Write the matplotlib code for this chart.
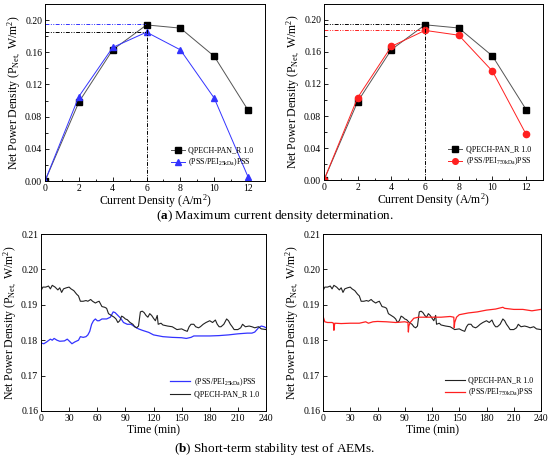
import matplotlib
matplotlib.use('Agg')
import matplotlib.pyplot as plt
import numpy as np
from matplotlib.ticker import MultipleLocator

plt.rcParams['font.family'] = ['Liberation Serif', 'DejaVu Serif']
plt.rcParams['mathtext.fontset'] = 'custom'
plt.rcParams['mathtext.rm'] = 'Liberation Serif'
plt.rcParams['mathtext.it'] = 'Liberation Serif'
plt.rcParams['mathtext.bf'] = 'Liberation Serif:bold'

# (a) current density sweep
current = [0, 2, 4, 6, 8, 10, 12]
p_qpech = [0, 0.098, 0.163, 0.194, 0.190, 0.155, 0.088]
p_25k = [0, 0.105, 0.166, 0.185, 0.163, 0.103, 0.005]
p_750k = [0, 0.103, 0.167, 0.187, 0.181, 0.136, 0.057]

# (b) stability test, time in min
t_qpech = [0, 2, 5, 8, 10, 12, 15, 18, 20, 22, 24, 27, 30, 32, 35, 38, 40, 42, 45, 48,
           50, 53, 55, 58, 60, 62, 65, 68, 70, 72, 75, 78, 80, 82, 84, 86, 88, 90, 92, 95,
           98, 100, 102, 104, 106, 108, 110, 112, 114, 116, 118, 120, 122, 124, 125, 128, 130, 135, 140, 145,
           150, 153, 156, 158, 160, 163, 165, 168, 170, 173, 176, 180, 183, 186, 188, 190, 192, 195, 198, 200,
           202, 204, 206, 210, 213, 215, 218, 222, 225, 228, 232, 235, 240]
p_qpech_t = [0.1940, 0.1950, 0.1950, 0.1953, 0.1945, 0.1955, 0.1950, 0.1942, 0.1948, 0.1935, 0.1945, 0.1948, 0.1950, 0.1945, 0.1940, 0.1930, 0.1925, 0.1910, 0.1910, 0.1912,
             0.1910, 0.1915, 0.1910, 0.1905, 0.1908, 0.1910, 0.1895, 0.1893, 0.1890, 0.1875, 0.1870, 0.1865, 0.1860, 0.1850, 0.1855, 0.1868, 0.1865, 0.1860, 0.1858, 0.1850,
             0.1845, 0.1838, 0.1835, 0.1840, 0.1880, 0.1882, 0.1878, 0.1870, 0.1865, 0.1875, 0.1870, 0.1862, 0.1855, 0.1870, 0.1845, 0.1848, 0.1843, 0.1840, 0.1838, 0.1830,
             0.1832, 0.1828, 0.1825, 0.1838, 0.1845, 0.1845, 0.1838, 0.1835, 0.1838, 0.1845, 0.1850, 0.1855, 0.1850, 0.1857, 0.1845, 0.1838, 0.1838, 0.1845, 0.1860, 0.1855,
             0.1845, 0.1838, 0.1830, 0.1830, 0.1835, 0.1845, 0.1838, 0.1840, 0.1838, 0.1835, 0.1838, 0.1832, 0.1830]

t_25k = [0, 3, 6, 10, 12, 14, 17, 20, 25, 28, 30, 33, 36, 40, 42, 45, 48, 50, 52, 54,
         56, 58, 60, 62, 65, 70, 74, 77, 79, 82, 85, 88, 92, 96, 100, 104, 108, 115, 120, 130,
         140, 150, 155, 160, 163, 170, 180, 190, 200, 210, 220, 225, 228, 232, 235, 238, 240]
p_25k_t = [0.1792, 0.1790, 0.1795, 0.1803, 0.1800, 0.1805, 0.1800, 0.1797, 0.1798, 0.1803, 0.1798, 0.1790, 0.1795, 0.1800, 0.1810, 0.1808, 0.1810, 0.1815, 0.1825, 0.1845,
           0.1855, 0.1860, 0.1855, 0.1855, 0.1860, 0.1860, 0.1865, 0.1880, 0.1878, 0.1870, 0.1862, 0.1850, 0.1845, 0.1845, 0.1838, 0.1832, 0.1828, 0.1822, 0.1815, 0.1810,
           0.1808, 0.1807, 0.1805, 0.1808, 0.1812, 0.1812, 0.1812, 0.1813, 0.1815, 0.1818, 0.1820, 0.1820, 0.1823, 0.1835, 0.1840, 0.1838, 0.1835]

t_750k = [0, 2, 5, 10, 11.5, 12, 12.5, 13, 20, 30, 40, 47, 50, 55, 60, 70, 80, 90, 93.5, 94,
          94.5, 96, 100, 105, 110, 120, 130, 140, 144, 144.5, 145, 147, 150, 160, 170, 180, 190, 198, 200, 210,
          220, 230, 240]
p_750k_t = [0.1868, 0.1852, 0.1850, 0.1850, 0.1848, 0.1828, 0.1840, 0.1848, 0.1847, 0.1848, 0.1848, 0.1852, 0.1848, 0.1852, 0.1853, 0.1852, 0.1850, 0.1852, 0.1850, 0.1823,
            0.1840, 0.1850, 0.1862, 0.1865, 0.1865, 0.1865, 0.1865, 0.1867, 0.1865, 0.1835, 0.1850, 0.1865, 0.1872, 0.1877, 0.1880, 0.1885, 0.1888, 0.1893, 0.1890, 0.1887,
            0.1887, 0.1883, 0.1887]

fig = plt.figure(figsize=(5.5, 4.59), dpi=100)
W, H = 550, 459

def make_ax(l, t, r, b):
    return fig.add_axes([l / W, 1 - b / H, (r - l) / W, (b - t) / H])

def style(ax):
    ax.tick_params(which='both', direction='in', labelsize=7, top=False, right=False, pad=2)
    ax.tick_params(which='major', length=3, width=0.6)
    ax.tick_params(which='minor', length=1.8, width=0.6)
    for s in ax.spines.values():
        s.set_linewidth(0.7)

ylab = 'Net Power Density (P$_{Net,}$ W/m$^2$)'

def sweep_panel(ax, p2, color, marker, label2, hl_black, hl_color):
    ax.plot(current, p_qpech, color='#555555', lw=0.7, marker='s', ms=4.5, mfc='black', mec='black',
            label='QPECH-PAN_R 1.0')
    ax.plot(current, p2, color=color, lw=0.7, marker=marker, ms=4.5, mfc=color, mec=color, label=label2)
    ax.plot([0, 6], [hl_black, hl_black], color='black', lw=0.7, ls=(0, (4, 1.5, 1, 1.5, 1, 1.5)))
    ax.plot([0, 6], [hl_color, hl_color], color=color, lw=0.7, ls=(0, (4, 1.5, 1, 1.5, 1, 1.5)))
    ax.plot([6, 6], [0, max(p_qpech)], color='black', lw=0.7, ls=(0, (4, 1.5, 1, 1.5)))
    ax.set_xlim(0, 13)
    ax.set_ylim(0, 0.22)
    ax.xaxis.set_major_locator(MultipleLocator(2))
    ax.xaxis.set_minor_locator(MultipleLocator(1))
    ax.yaxis.set_major_locator(MultipleLocator(0.04))
    ax.yaxis.set_minor_locator(MultipleLocator(0.02))
    ax.yaxis.set_major_formatter(plt.FormatStrFormatter('%.2f'))
    ax.set_xlabel('Current Density (A/m$^2$)', fontsize=8.5, labelpad=0)
    ax.set_ylabel(ylab, fontsize=8.5, labelpad=2)
    ax.legend(loc='lower right', bbox_to_anchor=(0.98, 0.03), fontsize=5.8, frameon=False,
              handlelength=1.8, handletextpad=0.4, labelspacing=0.3, markerscale=0.9)
    style(ax)

ax1 = make_ax(45, 4, 265, 181)
sweep_panel(ax1, p_25k, '#3333ff', '^', '(PSS/PEI$_{25 kDa}$)PSS', 0.185, 0.195)
ax2 = make_ax(324, 4, 543, 180)
sweep_panel(ax2, p_750k, '#ff2020', 'o', '(PSS/PEI$_{750 kDa}$)PSS', 0.195, 0.187)

def time_panel(ax):
    ax.set_xlim(0, 240)
    ax.set_ylim(0.16, 0.21)
    ax.xaxis.set_major_locator(MultipleLocator(30))
    ax.yaxis.set_major_locator(MultipleLocator(0.01))
    ax.yaxis.set_major_formatter(plt.FormatStrFormatter('%.2f'))
    ax.set_xlabel('Time (min)', fontsize=8.5, labelpad=1)
    ax.set_ylabel(ylab, fontsize=8.5, labelpad=2)
    ax.legend(loc='lower right', bbox_to_anchor=(1.0, 0.03), fontsize=5.8, frameon=False,
              handlelength=2.5, handletextpad=0.4, labelspacing=0.3)
    style(ax)

ax3 = make_ax(41, 234, 266, 411)
ax3.plot(t_25k, p_25k_t, color='#3333ff', lw=0.9, label='(PSS/PEI$_{25 kDa}$)PSS')
ax3.plot(t_qpech, p_qpech_t, color='#222222', lw=0.8, label='QPECH-PAN_R 1.0')
time_panel(ax3)

ax4 = make_ax(323, 234, 541, 411)
ax4.plot(t_qpech, p_qpech_t, color='#222222', lw=0.8, label='QPECH-PAN_R 1.0')
ax4.plot(t_750k, p_750k_t, color='#ff2020', lw=0.9, label='(PSS/PEI$_{750 kDa}$)PSS')
time_panel(ax4)

fig.text(0.5, 1 - 216 / H, r'($\mathbf{a}$) Maximum current density determination.',
         ha='center', va='center', fontsize=9.5)
fig.text(0.5, 1 - 449 / H, r'($\mathbf{b}$) Short-term stability test of AEMs.',
         ha='center', va='center', fontsize=9.5)

fig.savefig('out.png', dpi=100)
